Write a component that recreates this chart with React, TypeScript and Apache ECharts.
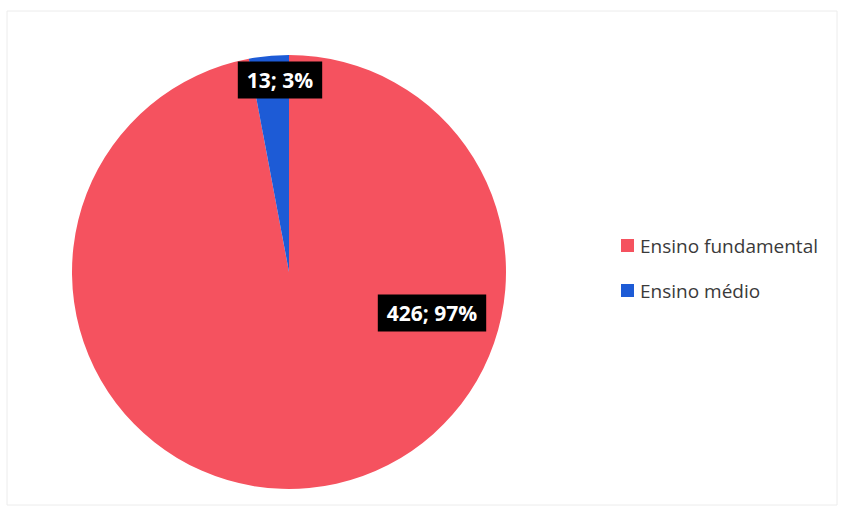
import React, { useEffect, useRef } from "react";
import * as echarts from "echarts";

const categories = ["Ensino fundamental", "Ensino médio"];
const values = [426, 13];
const percents = ["97%", "3%"];
const colors = ["#F5525F", "#1D5BD6"];

export default function App() {
  const ref = useRef<HTMLDivElement>(null);
  useEffect(() => {
    if (!ref.current) return;
    const chart = echarts.init(ref.current, undefined, { renderer: "svg" });
    const labelPos: Record<number, [number, number]> = {
      0: [432, 313],
      1: [280, 80],
    };
    chart.setOption({
      animation: false,
      backgroundColor: "#ffffff",
      color: colors,
      graphic: [
        {
          type: "rect",
          shape: { x: 7, y: 11, width: 830, height: 494 },
          style: { fill: "none", stroke: "#ececec", lineWidth: 1 },
          silent: true,
        },
      ],
      legend: {
        orient: "vertical",
        left: 616,
        top: 231,
        icon: "rect",
        itemWidth: 13,
        itemHeight: 13,
        itemGap: 26,
        textStyle: {
          fontFamily: "Open Sans",
          fontSize: 19,
          color: "#3a3a3a",
          padding: [0, 0, 0, 1],
        },
        data: categories,
      },
      series: [
        {
          type: "pie",
          center: [289, 272],
          radius: 217,
          startAngle: 90,
          clockwise: true,
          label: {
            show: true,
            position: "inside",
            formatter: (p: any) => `${p.value}; ${percents[p.dataIndex]}`,
            backgroundColor: "#000000",
            color: "#ffffff",
            fontFamily: "Open Sans",
            fontWeight: "bold",
            fontSize: 21,
            padding: [8, 9],
          },
          labelLayout: (params: any) => {
            const pos = labelPos[params.dataIndex];
            return { x: pos[0], y: pos[1], align: "center", verticalAlign: "middle" };
          },
          labelLine: { show: false },
          itemStyle: { borderWidth: 0 },
          emphasis: { disabled: true },
          data: categories.map((c, i) => ({ name: c, value: values[i] })),
        },
      ],
    });
    return () => chart.dispose();
  }, []);
  return (
    <div
      ref={ref}
      style={{ position: "fixed", left: 0, top: 0, width: 843, height: 516 }}
    />
  );
}
